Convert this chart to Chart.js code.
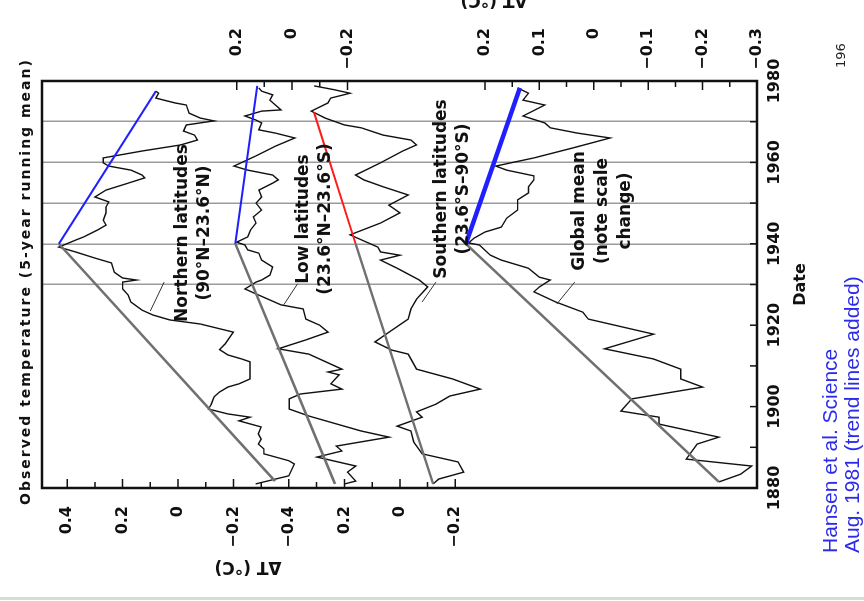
<!DOCTYPE html>
<html lang="en">
<head>
<meta charset="utf-8">
<title>Observed temperature (5-year running mean)</title>
<script src="https://cdn.jsdelivr.net/npm/chart.js@4.4.1/dist/chart.umd.min.js"></script>
<style>
  html, body { margin: 0; padding: 0; width: 864px; height: 601px; overflow: hidden; background: #fff; }
  /* el lienzo se dibuja en vertical y se gira 90 grados a la izquierda */
  #giro { position: absolute; left: 0; top: 601px; width: 601px; height: 864px; transform-origin: 0 0; transform: rotate(-90deg); }
  #miGrafico { position: absolute; left: 0; top: 0; }
  .rotulo { position: absolute; font-family: 'DejaVu Sans'; font-weight: bold; color: #111; white-space: nowrap; }
  .bloque { width: 220px; text-align: center; font-size: 17px; line-height: 22px; }
  .tituloEje { width: 120px; height: 24px; line-height: 24px; text-align: center; font-size: 17px; transform: rotate(-90deg); }
  #fuente { position: absolute; left: 48px; top: 819px; font-family: 'Liberation Sans'; font-size: 21px; line-height: 22px; color: #2b2bea; white-space: nowrap; }
  #linea { position: absolute; left: 0; top: 597px; width: 864px; height: 3px; background: #d9dccb; }
</style>
</head>
<body>
<div id="giro">
  <canvas id="miGrafico" width="601" height="864"></canvas>
  <div class="rotulo" style="left:96px; top:15px; font-size:14px; letter-spacing:2px; line-height:20px;">Observed temperature (5-year running mean)</div>
  <div class="rotulo bloque" style="left:258px; top:170px;">Northern latitudes<br>(90°N–23.6°N)</div>
  <div class="rotulo bloque" style="left:272px; top:291px;">Low latitudes<br>(23.6°N–23.6°S)</div>
  <div class="rotulo bloque" style="left:302px; top:429px;">Southern latitudes<br>(23.6°S–90°S)</div>
  <div class="rotulo bloque" style="left:280px; top:567px; line-height:23px;">Global mean<br>(note scale<br>change)</div>
  <div class="rotulo tituloEje" style="left:-27px; top:236px;">ΔT (°C)</div>
  <div class="rotulo tituloEje" style="left:540px; top:482px;">ΔT (°C)</div>
  <div class="rotulo" style="left:533px; top:833px; font-size:13px; line-height:16px; font-weight:normal; color:#222;">196</div>
  <div id="fuente">Hansen et al. Science<br>Aug. 1981 (trend lines added)</div>
</div>
<div id="linea"></div>

<script>
window.addEventListener('load', dibujarGrafico);

// Datos (media móvil de 5 años)
var northYears = [1881.0, 1883.0, 1885.9, 1886.7, 1888.4, 1889.6, 1890.8, 1892.0, 1893.3, 1895.0, 1896.5, 1897.4, 1898.2, 1899.4, 1900.6, 1902.4, 1903.6, 1904.8, 1905.6, 1906.8, 1909.2, 1911.0, 1911.7, 1912.7, 1914.0, 1915.4, 1918.3, 1920.3, 1921.3, 1922.5, 1923.7, 1925.7, 1927.4, 1928.9, 1930.6, 1931.1, 1931.6, 1933.0, 1935.3, 1936.5, 1938.0, 1939.2, 1940.9, 1941.7, 1943.4, 1944.6, 1945.8, 1947.6, 1949.0, 1950.3, 1951.5, 1953.2, 1954.9, 1956.2, 1956.9, 1958.1, 1959.1, 1959.9, 1961.1, 1962.8, 1964.3, 1965.5, 1966.7, 1967.7, 1969.2, 1970.2, 1970.9, 1972.1, 1974.1, 1974.6, 1975.8, 1977.0, 1977.5];
var northVals = [-0.28, -0.40, -0.42, -0.40, -0.31, -0.31, -0.29, -0.30, -0.29, -0.30, -0.22, -0.26, -0.18, -0.11, -0.12, -0.13, -0.15, -0.18, -0.22, -0.26, -0.26, -0.26, -0.23, -0.18, -0.15, -0.17, -0.20, -0.08, 0.03, 0.09, 0.13, 0.17, 0.18, 0.20, 0.20, 0.15, 0.20, 0.23, 0.24, 0.30, 0.37, 0.43, 0.37, 0.34, 0.29, 0.26, 0.27, 0.26, 0.26, 0.25, 0.30, 0.26, 0.18, 0.12, 0.13, 0.17, 0.25, 0.27, 0.27, 0.13, -0.01, -0.07, -0.06, -0.02, -0.03, -0.13, -0.08, -0.04, -0.03, 0.01, 0.08, 0.07, 0.08];

var lowYears = [1881.0, 1881.7, 1883.9, 1885.4, 1887.6, 1889.1, 1890.3, 1892.5, 1894.0, 1897.7, 1899.4, 1900.6, 1901.9, 1903.1, 1904.3, 1905.6, 1907.8, 1908.5, 1909.2, 1912.9, 1914.2, 1916.4, 1918.3, 1920.0, 1921.5, 1924.0, 1925.0, 1927.4, 1928.9, 1930.6, 1931.1, 1932.3, 1934.3, 1936.0, 1937.7, 1938.5, 1939.7, 1940.4, 1941.7, 1943.4, 1945.1, 1946.6, 1948.3, 1950.0, 1951.5, 1953.2, 1954.9, 1955.7, 1956.9, 1958.1, 1959.1, 1961.6, 1964.0, 1966.0, 1967.2, 1968.0, 1969.7, 1970.4, 1971.4, 1972.6, 1972.9, 1975.3, 1976.6, 1977.5, 1978.3];
var lowVals = [-0.19, -0.23, -0.20, -0.23, -0.09, -0.18, -0.16, -0.35, -0.25, -0.06, 0.01, 0.01, 0.01, -0.03, -0.18, -0.14, -0.17, -0.13, -0.18, -0.06, 0.05, -0.05, -0.13, -0.10, -0.05, -0.04, 0.04, 0.12, 0.17, 0.13, 0.11, 0.08, 0.07, 0.11, 0.12, 0.16, 0.17, 0.20, 0.16, 0.15, 0.13, 0.14, 0.11, 0.13, 0.11, 0.12, 0.07, 0.05, 0.07, 0.16, 0.21, 0.13, 0.06, -0.01, 0.06, 0.12, 0.11, 0.13, 0.17, 0.11, 0.04, 0.08, 0.07, 0.11, 0.12];

var southYears = [1881.0, 1882.2, 1883.9, 1886.4, 1888.4, 1891.3, 1894.0, 1895.2, 1897.4, 1898.7, 1900.6, 1902.6, 1904.3, 1906.8, 1909.2, 1912.9, 1913.9, 1915.9, 1917.8, 1921.5, 1924.0, 1926.4, 1929.4, 1931.1, 1934.0, 1936.0, 1937.2, 1938.0, 1939.2, 1942.2, 1945.1, 1947.6, 1949.5, 1952.0, 1954.0, 1955.7, 1956.9, 1959.9, 1962.8, 1964.3, 1965.5, 1966.7, 1968.5, 1969.2, 1970.9, 1972.6, 1974.6, 1975.8, 1977.0, 1977.9, 1978.8];
var southVals = [-0.12, -0.14, -0.23, -0.21, -0.08, -0.05, -0.04, 0.01, -0.08, -0.06, -0.13, -0.18, -0.29, -0.19, -0.06, -0.03, 0.03, 0.09, 0.05, -0.03, -0.04, -0.06, -0.10, -0.07, 0.01, 0.07, 0.00, 0.07, 0.08, 0.18, 0.07, 0.00, 0.04, -0.03, 0.06, 0.13, 0.16, 0.07, -0.01, -0.06, -0.04, 0.06, 0.14, 0.20, 0.27, 0.32, 0.26, 0.25, 0.18, 0.24, 0.31];

var globalYears = [1881.5, 1883.4, 1885.4, 1887.1, 1890.8, 1892.5, 1895.7, 1897.4, 1898.9, 1901.9, 1904.8, 1906.8, 1909.2, 1911.7, 1914.2, 1917.8, 1921.5, 1923.2, 1925.7, 1928.2, 1929.4, 1931.1, 1931.8, 1934.0, 1936.0, 1937.2, 1939.7, 1940.2, 1941.4, 1942.9, 1944.1, 1946.3, 1948.3, 1950.8, 1952.5, 1954.0, 1955.7, 1956.7, 1958.1, 1959.1, 1961.1, 1963.5, 1966.0, 1967.2, 1968.5, 1969.7, 1971.4, 1974.1, 1975.3, 1977.0, 1978.3];
var globalVals = [-0.23, -0.27, -0.29, -0.17, -0.19, -0.23, -0.12, -0.12, -0.05, -0.07, -0.20, -0.16, -0.16, -0.11, -0.02, -0.11, 0.01, 0.02, 0.07, 0.11, 0.10, 0.08, 0.10, 0.12, 0.17, 0.19, 0.21, 0.23, 0.22, 0.20, 0.17, 0.16, 0.14, 0.14, 0.12, 0.12, 0.11, 0.11, 0.16, 0.18, 0.11, 0.04, -0.03, 0.03, 0.08, 0.09, 0.13, 0.09, 0.13, 0.12, 0.14];

// Rectas de tendencia añadidas (inicio, 1940, final)
var northTrendYears = [1881.7, 1940, 1977.5];
var northTrendVals = [-0.35, 0.43, 0.08];
var lowTrendYears = [1881.0, 1940, 1978.8];
var lowTrendVals = [-0.155, 0.205, 0.126];
var southTrendYears = [1881.0, 1940, 1972.3];
var southTrendVals = [-0.12, 0.16, 0.31];
var globalTrendYears = [1881.5, 1940, 1978.3];
var globalTrendVals = [-0.23, 0.235, 0.136];

// Marcas de los ejes
var yearTicks = [1880, 1890, 1900, 1910, 1920, 1930, 1940, 1950, 1960, 1970, 1980];
var yearTickLabels = ['1880', '', '1900', '', '1920', '', '1940', '', '1960', '', '1980'];
var gridYears = [1930, 1940, 1950, 1960, 1970];
var northTicks = [0.4, 0.3, 0.2, 0.1, 0, -0.1, -0.2, -0.3, -0.4, -0.5];
var northTickLabels = ['0.4', '', '0.2', '', '0', '', '−0.2', '', '−0.4', ''];
var southTicks = [0.2, 0.1, 0, -0.1, -0.2];
var southTickLabels = ['0.2', '', '0', '', '−0.2'];
var lowTicks = [0.2, 0.1, 0, -0.1, -0.2];
var lowTickLabels = ['0.2', '', '0', '', '−0.2'];
var globalTicks = [0.2, 0.15, 0.1, 0.05, 0, -0.05, -0.1, -0.15, -0.2, -0.25, -0.3];
var globalTickLabels = ['0.2', '', '0.1', '', '0', '', '−0.1', '', '−0.2', '', '−0.3'];

// Rango de cada eje (las cuatro curvas comparten el área, desplazadas)
var rangoN = {min: -2.090, max: 0.491};
var rangoS = {min: -1.289, max: 1.292};
var rangoL = {min: -1.679, max: 0.903};
var rangoG = {min: -0.300, max: 1.014};

// Líneas guía de los rótulos: [eje, año1, valor1, año2, valor2]
var guias = [
  ['yN', 1930.6, 0.05, 1923.5, 0.10],
  ['yL', 1930.2, -0.02, 1925.0, 0.03],
  ['yS', 1930.6, -0.13, 1925.7, -0.08],
  ['yG', 1930.6, 0.035, 1925.2, 0.068]
];

function puntos(xs, ys) {
  return xs.map(function (x, i) { return {x: x, y: ys[i]}; });
}

function cambiaEje(v, de, a) {
  return a.min + (v - de.min) * (a.max - a.min) / (de.max - de.min);
}

function serie(xs, ys, eje, color, ancho) {
  return {data: puntos(xs, ys), yAxisID: eje, borderColor: color, borderWidth: ancho,
          pointRadius: 0, fill: false, tension: 0};
}

var fuenteTicks = {family: 'DejaVu Sans', size: 16, weight: 'bold'};

var marcasInternas = {
  id: 'marcasInternas',
  afterDraw: function (chart) {
    var ctx = chart.ctx, a = chart.chartArea, s = chart.scales;
    ctx.save();
    ctx.strokeStyle = '#111';
    ctx.lineWidth = 1.5;
    ctx.beginPath();
    s.x.ticks.forEach(function (t) {
      var p = s.x.getPixelForValue(t.value);
      ctx.moveTo(p, a.bottom);
      ctx.lineTo(p, a.bottom - 7);
    });
    s.yN.ticks.forEach(function (t) {
      var p = s.yN.getPixelForValue(t.value);
      ctx.moveTo(a.left, p);
      ctx.lineTo(a.left + (t.txt ? 9 : 6), p);
    });
    s.yL.ticks.forEach(function (t) {
      var p = s.yL.getPixelForValue(t.value);
      ctx.moveTo(a.right, p);
      ctx.lineTo(a.right - (t.txt ? 9 : 6), p);
    });
    ctx.stroke();
    // guías de los rótulos
    ctx.lineWidth = 1;
    ctx.strokeStyle = '#333';
    guias.forEach(function (g) {
      var e = s[g[0]];
      ctx.beginPath();
      ctx.moveTo(s.x.getPixelForValue(g[1]), e.getPixelForValue(g[2]));
      ctx.lineTo(s.x.getPixelForValue(g[3]), e.getPixelForValue(g[4]));
      ctx.stroke();
    });
    // marco
    ctx.strokeStyle = '#111';
    ctx.lineWidth = 2.5;
    ctx.strokeRect(a.left, a.top, a.right - a.left, a.bottom - a.top);
    ctx.restore();
  }
};

function dibujarGrafico() {
  var canvas = document.getElementById('miGrafico');
  var ctx = canvas.getContext('2d');
  Chart.defaults.font.family = 'DejaVu Sans';
  Chart.defaults.color = '#111';

  var datasets = [
    serie(northTrendYears.slice(1), northTrendVals.slice(1), 'yN', '#1f1fff', 2),
    serie(lowTrendYears.slice(1), lowTrendVals.slice(1), 'yL', '#1f1fff', 2),
    serie(southTrendYears.slice(1), southTrendVals.slice(1), 'yS', '#ff1a1a', 2),
    serie(globalTrendYears.slice(1), globalTrendVals.slice(1), 'yG', '#1f1fff', 4.5),
    serie(northTrendYears.slice(0, 2), northTrendVals.slice(0, 2), 'yN', '#707070', 2.5),
    serie(lowTrendYears.slice(0, 2), lowTrendVals.slice(0, 2), 'yL', '#707070', 2.5),
    serie(southTrendYears.slice(0, 2), southTrendVals.slice(0, 2), 'yS', '#707070', 2.5),
    serie(globalTrendYears.slice(0, 2), globalTrendVals.slice(0, 2), 'yG', '#707070', 2.5),
    serie(northYears, northVals, 'yN', '#111', 1.4),
    serie(lowYears, lowVals, 'yL', '#111', 1.4),
    serie(southYears, southVals, 'yS', '#111', 1.4),
    serie(globalYears, globalVals, 'yG', '#111', 1.4)
  ];

  var miGrafico = new Chart(ctx, {
    type: 'line',
    data: {datasets: datasets},
    options: {
      responsive: false,
      animation: false,
      devicePixelRatio: 1,
      layout: {padding: {top: 42, right: 28, bottom: 50, left: 0}},
      plugins: {legend: {display: false}, tooltip: {enabled: false}},
      scales: {
        x: {
          type: 'linear', position: 'bottom', min: 1880, max: 1980,
          afterBuildTicks: function (eje) {
            eje.ticks = yearTicks.map(function (v, i) { return {value: v, txt: yearTickLabels[i]}; });
          },
          afterFit: function (eje) { eje.height = 57; },
          ticks: {autoSkip: false, maxRotation: 0, padding: 8, font: fuenteTicks,
                  callback: function (v, i, t) { return t[i].txt; }},
          grid: {drawTicks: false, lineWidth: 1.5,
                 color: function (c) {
                   return (c.tick && gridYears.indexOf(c.tick.value) >= 0) ? '#9b9b9b' : 'rgba(0,0,0,0)';
                 }},
          border: {display: false},
          title: {display: true, text: 'Date', font: {family: 'DejaVu Sans', size: 16, weight: 'bold'},
                  padding: {top: 0, bottom: 4}}
        },
        yN: {
          type: 'linear', position: 'left', min: rangoN.min, max: rangoN.max,
          afterBuildTicks: function (eje) {
            var a = northTicks.map(function (v, i) { return {value: v, txt: northTickLabels[i]}; });
            var b = southTicks.map(function (v, i) { return {value: cambiaEje(v, rangoS, rangoN), txt: southTickLabels[i]}; });
            eje.ticks = a.concat(b);
          },
          afterFit: function (eje) { eje.width = 113; },
          ticks: {autoSkip: false, padding: 18, font: fuenteTicks,
                  callback: function (v, i, t) { return t[i].txt; }},
          grid: {display: false, drawTicks: false},
          border: {display: false}
        },
        yL: {
          type: 'linear', position: 'right', min: rangoL.min, max: rangoL.max,
          afterBuildTicks: function (eje) {
            var a = lowTicks.map(function (v, i) { return {value: v, txt: lowTickLabels[i]}; });
            var b = globalTicks.map(function (v, i) { return {value: cambiaEje(v, rangoG, rangoL), txt: globalTickLabels[i]}; });
            eje.ticks = a.concat(b);
          },
          afterFit: function (eje) { eje.width = 53; },
          ticks: {autoSkip: false, padding: 10, crossAlign: 'far', font: fuenteTicks,
                  callback: function (v, i, t) { return t[i].txt; }},
          grid: {display: false, drawTicks: false},
          border: {display: false}
        },
        yS: {type: 'linear', display: false, min: rangoS.min, max: rangoS.max},
        yG: {type: 'linear', display: false, min: rangoG.min, max: rangoG.max}
      }
    },
    plugins: [marcasInternas]
  });
}
</script>
</body>
</html>
